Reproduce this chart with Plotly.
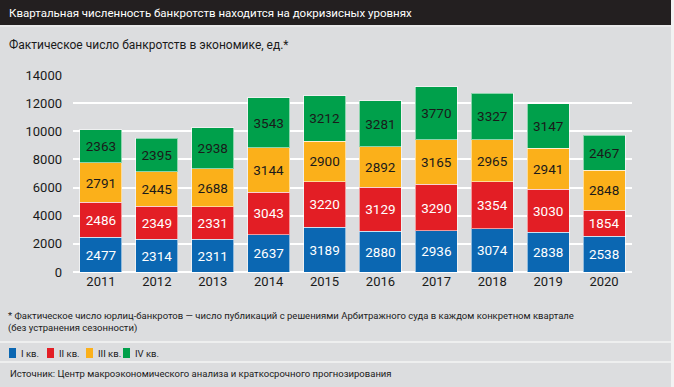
import plotly.graph_objects as go

years = ["2011", "2012", "2013", "2014", "2015", "2016", "2017", "2018", "2019", "2020"]
q1 = [2477, 2314, 2311, 2637, 3189, 2880, 2936, 3074, 2838, 2538]
q2 = [2486, 2349, 2331, 3043, 3220, 3129, 3290, 3354, 3030, 1854]
q3 = [2791, 2445, 2688, 3144, 2900, 2892, 3165, 2965, 2941, 2848]
q4 = [2363, 2395, 2938, 3543, 3212, 3281, 3770, 3327, 3147, 2467]
series_names = ["I кв.", "II кв.", "III кв.", "IV кв."]
y_ticks = [0, 2000, 4000, 6000, 8000, 10000, 12000, 14000]

title = "Квартальная численность банкротств находится на докризисных уровнях"
subtitle = "Фактическое число банкротств в экономике, ед.*"
footnote = ("* Фактическое число юрлиц-банкротов — число публикаций с решениями Арбитражного суда "
            "в каждом конкретном квартале<br>(без устранения сезонности)")
source = "Источник: Центр макроэкономического анализа и краткосрочного прогнозирования"

colors = ["#0b67b2", "#e31e25", "#fbb01a", "#00a04b"]
text_colors = ["white", "white", "#1a1a1a", "#1a1a1a"]
FONT = "Roboto, Liberation Sans, sans-serif"

W, H = 674, 387
L, R, T, B = 73, 42, 75, 115
PW, PH = W - L - R, H - T - B


def px(x):
    return (x - L) / PW


def py(y):
    return (H - B - y) / PH


fig = go.Figure()
for vals, name, c, tc in zip([q1, q2, q3, q4], series_names, colors, text_colors):
    fig.add_trace(go.Bar(
        x=years, y=vals, name=name,
        marker=dict(color=c, line=dict(color="rgba(255,255,255,0.55)", width=1)),
        text=vals, texttemplate="%{text}", textposition="inside",
        insidetextanchor="middle", textangle=0,
        textfont=dict(color=tc, size=13.5, family=FONT),
        showlegend=False, hoverinfo="skip",
    ))

shapes = [
    dict(type="rect", xref="paper", yref="paper", x0=px(0), x1=px(671), y0=py(25), y1=py(0),
         fillcolor="#231f20", line=dict(width=0), layer="below"),
    dict(type="rect", xref="paper", yref="paper", x0=px(671), x1=px(W), y0=py(H), y1=py(0),
         fillcolor="#f2f2f2", line=dict(width=0), layer="below"),
    dict(type="line", xref="paper", yref="paper", x0=px(0), x1=px(671), y0=py(26), y1=py(26),
         line=dict(color="#f4f4f4", width=1)),
    dict(type="line", xref="paper", yref="paper", x0=px(0), x1=px(671), y0=py(342), y1=py(342),
         line=dict(color="#f4f4f4", width=1.5)),
    dict(type="line", xref="paper", yref="paper", x0=px(0), x1=px(671), y0=py(362), y1=py(362),
         line=dict(color="#f4f4f4", width=1.5)),
]

annotations = [
    dict(text=title, x=px(7), y=py(13), xref="paper", yref="paper", xanchor="left", yanchor="middle",
         showarrow=False, font=dict(color="white", size=11.5, family=FONT)),
    dict(text=subtitle, x=px(7), y=py(45), xref="paper", yref="paper", xanchor="left", yanchor="middle",
         showarrow=False, font=dict(color="#1a1a1a", size=12, family=FONT)),
    dict(text=footnote, x=px(6), y=py(322), xref="paper", yref="paper", xanchor="left", yanchor="middle",
         align="left", showarrow=False, font=dict(color="#1a1a1a", size=9.5, family=FONT)),
    dict(text=source, x=px(8), y=py(373), xref="paper", yref="paper", xanchor="left", yanchor="middle",
         showarrow=False, font=dict(color="#1a1a1a", size=9.5, family=FONT)),
]

leg_x = [9, 47, 86, 123]
for lx, c, name in zip(leg_x, colors, series_names):
    shapes.append(dict(type="rect", xref="paper", yref="paper", x0=px(lx), x1=px(lx + 7),
                       y0=py(358), y1=py(348), fillcolor=c, line=dict(width=0)))
    annotations.append(dict(text=name, x=px(lx + 10), y=py(353), xref="paper", yref="paper",
                            xanchor="left", yanchor="middle", showarrow=False,
                            font=dict(color="#1a1a1a", size=9.5, family=FONT)))

fig.update_layout(
    width=W, height=H,
    margin=dict(l=L, r=R, t=T, b=B, autoexpand=False),
    barmode="stack", bargap=0.25,
    paper_bgcolor="#dcdddf", plot_bgcolor="#dcdddf",
    font=dict(family=FONT, color="#1a1a1a"),
    shapes=shapes, annotations=annotations,
    xaxis=dict(type="category", range=[-0.5, 9.5], showgrid=False, showline=False, automargin=False,
               ticks="", tickfont=dict(size=13, family=FONT, color="#1a1a1a")),
    yaxis=dict(range=[0, 14000], tickvals=y_ticks, tickformat="d", showgrid=True, gridcolor="white",
               gridwidth=1.5, zeroline=True, zerolinecolor="white", zerolinewidth=1.5, showline=False,
               automargin=False, ticks="", ticklabelstandoff=10,
               tickfont=dict(size=13, family=FONT, color="#1a1a1a")),
)

fig.write_html("out.html", config={"displayModeBar": False},
               post_script="document.body.style.margin='0';document.body.style.padding='0';")
